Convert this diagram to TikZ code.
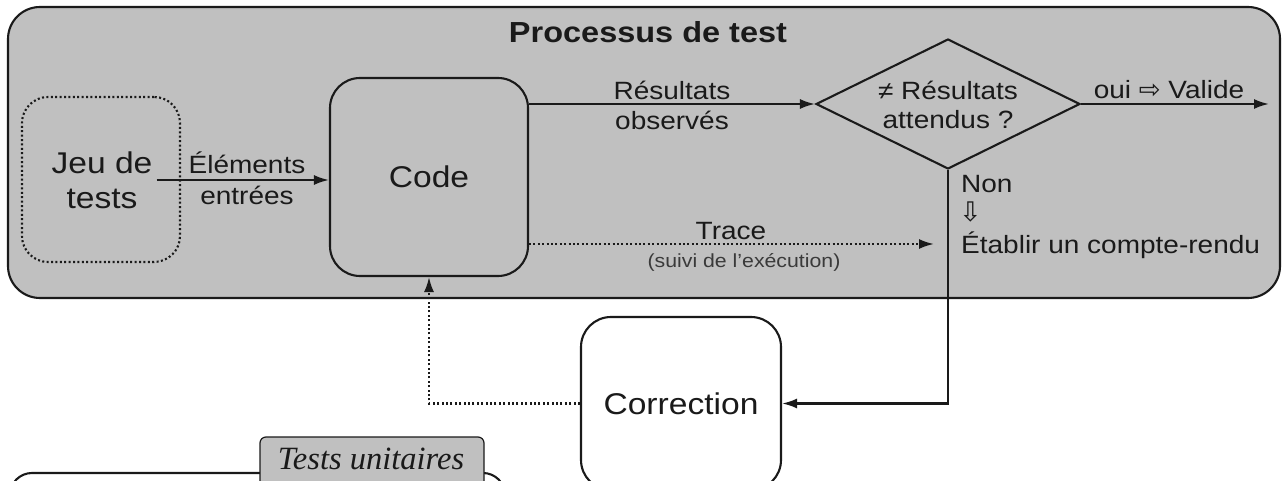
\documentclass[tikz,border=0pt]{standalone}
\usepackage{fontspec}
\setmainfont{Liberation Sans}[FakeStretch=1.12]
\newfontfamily\tabfont{Liberation Serif}
\newfontfamily\symfont{DejaVu Sans}
\usetikzlibrary{shapes.geometric,arrows.meta}
\definecolor{panel}{HTML}{C0C0C0}
\definecolor{ink}{HTML}{1A1A1A}
\definecolor{soft}{HTML}{3A3A3A}
\newcommand{\fs}[1]{\fontsize{#1}{#1}\selectfont}
\tikzset{
  x=1pt, y=-1pt,
  every node/.style={text=ink},
  line/.style={draw=ink, line width=2.1pt},
  arr/.style={line, -{Latex[length=15pt,width=10pt]}},
  darr/.style={arr, dash pattern=on 2pt off 2.4pt},
  box/.style={line, rectangle, rounded corners=30pt, inner sep=0pt},
  txt/.style={inner sep=0pt, align=center},
}
\begin{document}
\begin{tikzpicture}
\useasboundingbox (0,0) rectangle (1286,481);
\clip (0,0) rectangle (1286,481);

% test process frame
\node[box, fill=panel, rounded corners=32pt, minimum width=1272pt, minimum height=291pt] (proc) at (644,152.5) {};
\node[txt, font=\fs{29}\bfseries] (title) at (648,32) {Processus de test};

% test set
\node[box, dash pattern=on 2pt off 2.4pt, rounded corners=26pt, minimum width=158pt, minimum height=165pt] (jeu) at (101,179.5) {};
\node[txt, font=\fs{30}, inner sep=4pt] (jeutxt) at (102,180) {Jeu de\\[5pt]tests};

% code under test
\node[box, minimum width=198pt, minimum height=198pt, font=\fs{30}] (code) at (429,177) {Code};

% decision
\node[line, diamond, minimum width=264pt, minimum height=130pt, inner sep=0pt] (dia) at (948,104) {};
\node[txt, font=\fs{25}] (q1) at (948,90) {≠ Résultats};
\node[txt, font=\fs{25}] (q2) at (948,120) {attendus ?};

% correction
\node[box, fill=white, minimum width=200pt, minimum height=173pt, font=\fs{30}] (corr) at (681,403.5) {Correction};

% inputs
\draw[arr] (jeutxt.east) -- (jeutxt.east -| code.west);
\node[txt, font=\fs{25}] (elem) at (247,163) {Éléments};
\node[txt, font=\fs{25}] (entr) at (247,195) {entrées};

% observed results
\draw[arr] (code.east |- dia.west) -- (dia.west);
\node[txt, font=\fs{25}] (res) at (672,90) {Résultats};
\node[txt, font=\fs{25}] (obs) at (672,120) {observés};

% valid branch
\coordinate (valide) at (1269,104);
\draw[arr] (dia.east) -- (valide);
\node[txt, font=\fs{25}] (oui) at (1169,90) {oui {\symfont\fs{26}⇨} Valide};

% trace
\coordinate (traceend) at (934,244);
\draw[darr] (code.east |- traceend) -- (traceend);
\node[txt, font=\fs{25}] (trace) at (731,231) {Trace};
\node[txt, font=\fs{19}, text=soft] (suivi) at (744,262) {(suivi de l'exécution)};

% failing branch
\draw[arr] (dia.south) |- (corr.east);
\node[txt, font=\fs{25}, anchor=west] (non) at (961,184) {Non};
\node[txt, font=\symfont\fs{27}, anchor=west] (down) at (959,212) {⇩};
\node[txt, font=\fs{25}, anchor=west] (rapport) at (961,245) {Établir un compte-rendu};

% fix loop back to the code
\draw[darr] (corr.west) -| (code.south);

% unit tests panel
\node[line, fill=white, rounded corners=22pt, minimum width=495pt, minimum height=150pt] (unit) at (257.5,548) {};
\node[draw=ink, line width=1.2pt, fill=panel, rounded corners=6pt, minimum width=224pt, minimum height=56pt, inner sep=0pt] (tab) at (372,465) {};
\node[txt, font=\tabfont\itshape\fs{32.5}] (tabtxt) at (371,459) {Tests unitaires};
\end{tikzpicture}
\end{document}
